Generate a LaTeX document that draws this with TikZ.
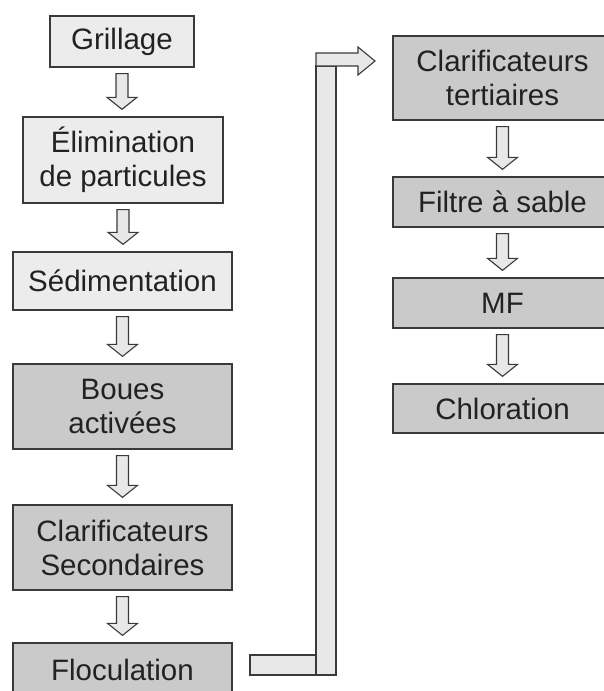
\documentclass[tikz,border=0pt]{standalone}
\usepackage{fontspec}
\setmainfont{Liberation Sans}
\usetikzlibrary{calc}
\definecolor{lightbox}{HTML}{ECECEC}
\definecolor{darkbox}{HTML}{CACACA}
\definecolor{arrfill}{HTML}{E8E8E8}
\definecolor{edge}{HTML}{3A3A3A}
\definecolor{ink}{HTML}{222222}
\newcommand\flowdown[2]{%
  \draw[flowarr] let \p1=($(#1.south)+(0,6)$), \p2=($(#2.north)+(0,-7)$) in
    (\x1-6pt,\y1) -- (\x1+6pt,\y1) -- (\x1+6pt,\y2+12pt) -- (\x1+15pt,\y2+12pt)
    -- (\x1,\y2) -- (\x1-15pt,\y2+12pt) -- (\x1-6pt,\y2+12pt) -- cycle;}
\begin{document}
\begin{tikzpicture}[x=1pt,y=-1pt,
  box/.style={draw=edge, line width=1.3pt, inner sep=0pt, align=center,
    font=\fontsize{29.5}{34}\selectfont, text=ink},
  lightb/.style={box, fill=lightbox},
  darkb/.style={box, fill=darkbox},
  flowarr/.style={draw=edge, line width=1.1pt, fill=arrfill, line join=miter},
]
\useasboundingbox (0,0) rectangle (603,691);
% left column
\node[lightb, minimum width=144pt, minimum height=51pt] (g) at (122,41.5) {Grillage};
\node[lightb, minimum width=200pt, minimum height=86pt] (e) at (123,160) {Élimination\\de particules};
\node[lightb, minimum width=219pt, minimum height=58pt] (s) at (122.5,281) {Sédimentation};
\node[darkb, minimum width=219pt, minimum height=85pt] (b) at (122.5,406.5) {Boues\\activées};
\node[darkb, minimum width=219pt, minimum height=85pt] (c) at (122.5,547.5) {Clarificateurs\\Secondaires};
\node[darkb, minimum width=219pt, minimum height=54pt] (f) at (122.5,670) {Floculation};
% right column
\node[darkb, minimum width=219pt, minimum height=84pt] (t) at (502.5,78) {Clarificateurs\\tertiaires};
\node[darkb, minimum width=219pt, minimum height=50pt] (fs) at (502.5,202) {Filtre à sable};
\node[darkb, minimum width=219pt, minimum height=50pt] (mf) at (502.5,303) {MF};
\node[darkb, minimum width=219pt, minimum height=49pt] (cl) at (502.5,408.5) {Chloration};
% down arrows
\flowdown{g}{e}
\flowdown{e}{s}
\flowdown{s}{b}
\flowdown{b}{c}
\flowdown{c}{f}
\flowdown{t}{fs}
\flowdown{fs}{mf}
\flowdown{mf}{cl}
% pipe from Floculation to Clarificateurs tertiaires
\coordinate (pa) at (250,655);
\coordinate (pb) at (316,675);
\coordinate (pc) at (336,66);
\draw[flowarr] (316,66) rectangle (336,675);
\draw[flowarr] (pa) rectangle (pb);
\draw[flowarr] (316,53) -- (358,53) -- (358,47) -- (375,61) -- (358,75) -- (358,66) -- (316,66) -- cycle;
\end{tikzpicture}
\end{document}
